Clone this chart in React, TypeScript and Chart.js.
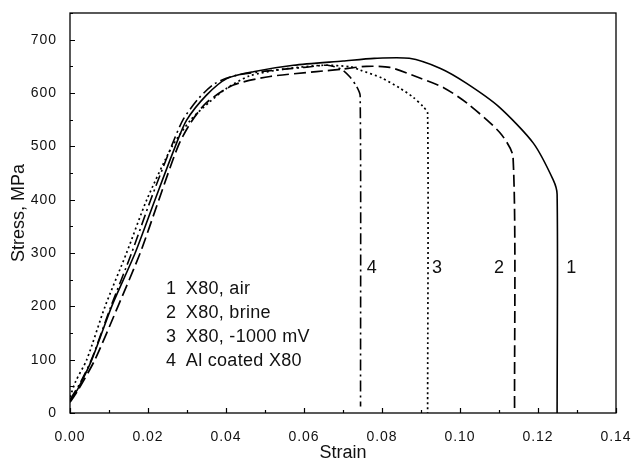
import React, { useEffect, useRef } from "react";
import { Chart, registerables } from "chart.js";

Chart.register(...registerables);

// ---- Data ----
const curveNames = ["1", "2", "3", "4"];
const legendTexts = ["X80, air", "X80, brine", "X80, -1000 mV", "Al coated X80"];
const xTitle = "Strain";
const yTitle = "Stress, MPa";

const strain1 = [0, 0.002, 0.0056, 0.0107, 0.0167, 0.0218, 0.027, 0.0299, 0.035, 0.0402, 0.047, 0.0573, 0.07, 0.078, 0.087, 0.095, 0.1017, 0.11, 0.1188, 0.1239, 0.1249, 0.1249];
const stress1 = [22, 45, 100, 200, 300, 400, 500, 549, 596, 627, 640, 652, 660, 665, 665, 646, 618, 574, 506, 437, 410, 0];

const strain2 = [0, 0.002, 0.0064, 0.0123, 0.018, 0.0228, 0.0277, 0.031, 0.035, 0.0419, 0.0513, 0.0632, 0.07, 0.076, 0.082, 0.0897, 0.0958, 0.1018, 0.1103, 0.1136, 0.114];
const stress2 = [20, 42, 100, 200, 300, 400, 500, 545, 582, 615, 631, 640, 645, 650, 648, 628, 610, 581, 525, 480, 0];

const strain3 = [0, 0.0015, 0.0043, 0.009, 0.0145, 0.0197, 0.0262, 0.031, 0.0359, 0.04, 0.046, 0.055, 0.065, 0.072, 0.0744, 0.08, 0.0846, 0.088, 0.0906, 0.0917, 0.0917];
const stress3 = [30, 60, 100, 200, 300, 400, 500, 550, 584, 608, 632, 645, 652, 649, 643, 628, 609, 592, 574, 562, 0];

const strain4 = [0, 0.0025, 0.0055, 0.0105, 0.0158, 0.0207, 0.026, 0.029, 0.033, 0.037, 0.042, 0.05, 0.06, 0.066, 0.0695, 0.0718, 0.0735, 0.0744, 0.0745];
const stress4 = [25, 55, 100, 200, 300, 400, 500, 550, 590, 617, 632, 641, 648, 652, 645, 630, 612, 595, 12];

// annotation anchors in data units
const curveLabelStrain = [0.1285, 0.110, 0.0941, 0.0774];
const curveLabelStress = 272;
const legendStrainNum = 0.0246;
const legendStrainText = 0.0297;
const legendStress = [232, 187, 142, 97];

const xTickStep = 0.02;
const yTickStep = 100;

const toPts = (xs: number[], ys: number[]) => xs.map((x, i) => ({ x, y: ys[i] }));

const FONT = "'Liberation Sans', Arial, sans-serif";

const framePlugin = {
  id: "frameTicks",
  beforeDraw(chart: any) {
    try { chart.ctx.letterSpacing = "1px"; } catch (e) {}
  },
  afterDraw(chart: any) {
    try { chart.ctx.letterSpacing = "0px"; } catch (e) {}
  },
  afterDatasetsDraw(chart: any) {
    const { ctx, chartArea: a, scales } = chart;
    const xs = scales.x;
    const ys = scales.y;
    ctx.save();
    ctx.strokeStyle = "#000";
    ctx.lineWidth = 1.3;
    ctx.strokeRect(a.left, a.top, a.right - a.left, a.bottom - a.top);
    ctx.lineWidth = 1.2;
    ctx.beginPath();
    for (let i = 0; i <= 14; i++) {
      const v = i * 0.01;
      const px = Math.round(xs.getPixelForValue(v)) + 0.5;
      const len = i % 2 === 0 ? 5 : 3;
      ctx.moveTo(px, a.bottom);
      ctx.lineTo(px, a.bottom - len);
    }
    for (let i = 0; i <= 15; i++) {
      const v = i * 50;
      const py = Math.round(ys.getPixelForValue(v)) + 0.5;
      const len = i % 2 === 0 ? 5 : 3;
      ctx.moveTo(a.left, py);
      ctx.lineTo(a.left + len, py);
    }
    ctx.stroke();

    ctx.fillStyle = "#111";
    ctx.font = `18px ${FONT}`;
    ctx.textBaseline = "middle";
    try { (ctx as any).letterSpacing = "0px"; } catch (e) {}

    // axis titles
    ctx.textAlign = "center";
    ctx.fillText(xTitle, (a.left + a.right) / 2, 453);
    ctx.save();
    ctx.translate(19, (a.top + a.bottom) / 2);
    ctx.rotate(-Math.PI / 2);
    ctx.fillText(yTitle, 0, 0);
    ctx.restore();

    // curve numbers
    curveNames.forEach((n, i) => {
      ctx.fillText(n, xs.getPixelForValue(curveLabelStrain[i]), ys.getPixelForValue(curveLabelStress));
    });
    // legend text
    ctx.textAlign = "left";
    try { (ctx as any).letterSpacing = "0.3px"; } catch (e) {}
    curveNames.forEach((n, i) => {
      const py = ys.getPixelForValue(legendStress[i]);
      ctx.fillText(n, xs.getPixelForValue(legendStrainNum), py);
      ctx.fillText(legendTexts[i], xs.getPixelForValue(legendStrainText), py);
    });
    ctx.restore();
  },
};

export default function App() {
  const ref = useRef<HTMLCanvasElement>(null);
  useEffect(() => {
    if (!ref.current) return;
    const base = { borderColor: "#000", pointRadius: 0, fill: false, tension: 0.25, borderJoinStyle: "round" as const };
    const chart = new Chart(ref.current, {
      type: "line",
      data: {
        datasets: [
          { ...base, label: curveNames[0], data: toPts(strain1, stress1), borderWidth: 1.6, borderDash: [] },
          { ...base, label: curveNames[1], data: toPts(strain2, stress2), borderWidth: 1.7, borderDash: [12, 5] },
          { ...base, label: curveNames[2], data: toPts(strain3, stress3), borderWidth: 1.7, borderDash: [2, 3] },
          { ...base, label: curveNames[3], data: toPts(strain4, stress4), borderWidth: 1.6, borderDash: [11, 4, 2, 4] },
        ],
      },
      options: {
        responsive: false,
        animation: false,
        devicePixelRatio: 1,
        layout: { padding: { left: 0, top: 13, right: 17, bottom: 0 } },
        plugins: { legend: { display: false }, tooltip: { enabled: false } },
        scales: {
          x: {
            type: "linear",
            min: 0,
            max: 0.14,
            grid: { display: false },
            border: { display: false },
            ticks: {
              stepSize: xTickStep,
              padding: 8,
              color: "#111",
              font: { family: FONT, size: 14 },
              maxRotation: 0,
              callback: (v: any) => Number(v).toFixed(2),
            },
            title: { display: false },
            afterFit: (s: any) => { s.height = 49; s.paddingLeft = 0; s.paddingRight = 0; },
          },
          y: {
            type: "linear",
            min: 0,
            max: 750,
            grid: { display: false },
            border: { display: false },
            ticks: {
              stepSize: yTickStep,
              padding: 5,
              color: "#111",
              font: { family: FONT, size: 14 },
              callback: (v: any) => String(v),
            },
            afterBuildTicks: (s: any) => { s.ticks = s.ticks.filter((t: any) => t.value % 100 === 0); },
            title: { display: false },
            afterFit: (s: any) => { s.width = 70; s.paddingTop = 0; s.paddingBottom = 0; },
          },
        },
      },
      plugins: [framePlugin],
    });
    return () => chart.destroy();
  }, []);
  return (
    <div style={{ position: "fixed", left: 0, top: 0, width: 633, height: 462, background: "#fff" }}>
      <canvas ref={ref} width={633} height={462} />
    </div>
  );
}
